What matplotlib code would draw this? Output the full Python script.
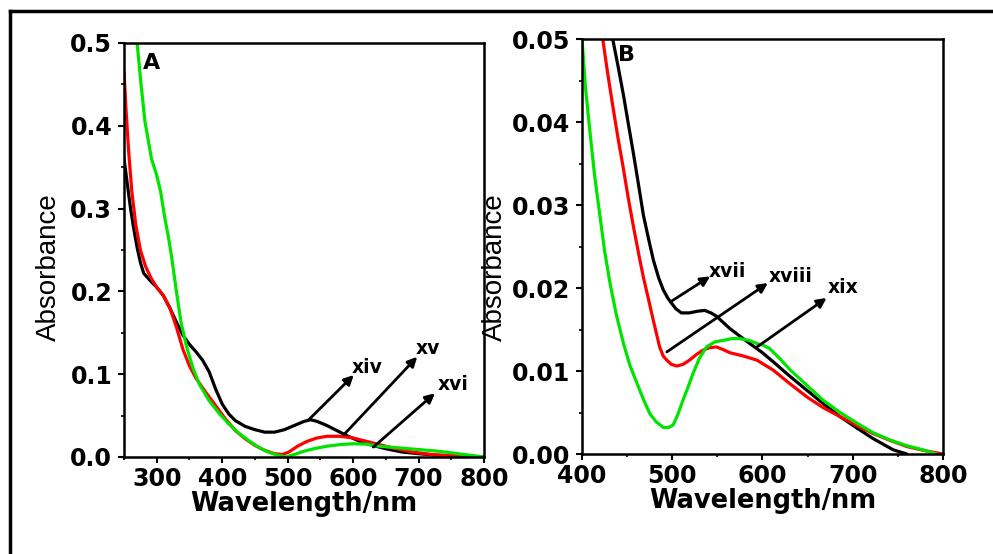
import matplotlib.pyplot as plt
from matplotlib.lines import Line2D

plt.rcParams['font.family'] = ['DejaVu Sans']

# Panel A spectra (wavelength nm, absorbance)
wl_a_black = [250, 255, 260, 265, 270, 275, 280, 290, 300, 310, 320, 330, 340, 350, 360,
              370, 380, 390, 400, 410, 420, 435, 450, 465, 480, 495, 510, 525, 535, 545,
              560, 575, 590, 610, 630, 650, 675, 700, 730, 760, 800]
abs_a_black = [0.36, 0.33, 0.30, 0.275, 0.253, 0.235, 0.222, 0.213, 0.205, 0.195, 0.180,
               0.163, 0.147, 0.136, 0.127, 0.117, 0.103, 0.082, 0.064, 0.052, 0.044, 0.037,
               0.033, 0.030, 0.030, 0.033, 0.038, 0.043, 0.045, 0.043, 0.038, 0.032, 0.026,
               0.019, 0.014, 0.010, 0.006, 0.004, 0.002, 0.001, 0.0]
wl_a_red = [250, 253, 257, 262, 268, 275, 283, 292, 300, 310, 320, 330, 340, 350, 360,
            375, 390, 405, 420, 435, 450, 465, 480, 492, 502, 515, 530, 545, 560, 580,
            600, 620, 640, 660, 690, 720, 760, 790]
abs_a_red = [0.465, 0.42, 0.37, 0.32, 0.28, 0.25, 0.23, 0.215, 0.205, 0.195, 0.18, 0.157,
             0.13, 0.11, 0.095, 0.078, 0.062, 0.046, 0.032, 0.022, 0.014, 0.008, 0.004,
             0.003, 0.006, 0.013, 0.019, 0.023, 0.025, 0.025, 0.023, 0.019, 0.015, 0.011,
             0.006, 0.003, 0.001, 0.0]
wl_a_green = [270, 276, 282, 292, 300, 306, 312, 318, 323, 330, 337, 345, 355, 365, 380,
              395, 410, 425, 440, 455, 470, 485, 497, 510, 525, 540, 560, 580, 600, 620,
              640, 670, 700, 730, 760, 800]
abs_a_green = [0.50, 0.45, 0.405, 0.36, 0.34, 0.32, 0.29, 0.265, 0.24, 0.20, 0.163, 0.135,
               0.108, 0.088, 0.068, 0.053, 0.04, 0.029, 0.02, 0.012, 0.006, 0.002, 0.0,
               0.003, 0.007, 0.010, 0.013, 0.015, 0.016, 0.0155, 0.013, 0.011, 0.009,
               0.007, 0.004, 0.0]

# Panel B spectra
wl_b_black = [434, 440, 446, 451, 457, 463, 468, 474, 479, 485, 490, 495, 499, 504, 510,
              519, 528, 536, 543, 549, 557, 564, 575, 586, 600, 612, 630, 649, 667, 686,
              705, 722, 735, 745, 760]
abs_b_black = [0.05, 0.0467, 0.0432, 0.0400, 0.0362, 0.0322, 0.0288, 0.0258, 0.0234,
               0.0212, 0.0198, 0.0188, 0.0182, 0.0175, 0.0170, 0.0170, 0.0172, 0.0173,
               0.0170, 0.0166, 0.0158, 0.0151, 0.0142, 0.0133, 0.0122, 0.0111, 0.0094,
               0.0077, 0.0061, 0.0045, 0.0031, 0.0019, 0.0011, 0.0005, 0.0]
wl_b_red = [423, 428, 434, 440, 446, 451, 457, 463, 468, 474, 479, 483, 486, 490, 494, 499,
            505, 512, 519, 527, 534, 541, 549, 556, 564, 579, 594, 603, 612, 630, 649, 667,
            686, 705, 722, 740, 760, 780, 800]
abs_b_red = [0.05, 0.0462, 0.042, 0.038, 0.0343, 0.031, 0.0274, 0.024, 0.0213, 0.0185,
             0.0161, 0.0143, 0.0129, 0.0118, 0.0113, 0.0108, 0.0106, 0.0108, 0.0113, 0.0120,
             0.0125, 0.0128, 0.0129, 0.0126, 0.0122, 0.0118, 0.0113, 0.0107, 0.0101,
             0.0085, 0.0069, 0.0056, 0.0045, 0.0034, 0.0025, 0.0017, 0.0009, 0.0004, 0.0]
wl_b_green = [400, 404, 409, 414, 420, 425, 431, 438, 446, 453, 461, 468, 475, 482, 490,
              496, 501, 506, 512, 518, 523, 530, 538, 547, 557, 566, 575, 585, 594, 601,
              608, 620, 631, 649, 667, 686, 705, 722, 741, 760, 778, 793]
abs_b_green = [0.05, 0.044, 0.0386, 0.0335, 0.0286, 0.0245, 0.0206, 0.0168, 0.0133, 0.0107,
               0.0085, 0.0066, 0.0049, 0.0039, 0.0032, 0.0032, 0.0035, 0.0047, 0.0065,
               0.0082, 0.0097, 0.0115, 0.0129, 0.0135, 0.0137, 0.0139, 0.0139, 0.0137,
               0.0133, 0.0131, 0.0127, 0.0114, 0.0101, 0.0083, 0.0065, 0.0050, 0.0037,
               0.0026, 0.0017, 0.0010, 0.0005, 0.0]

# Curve labels: (text, curve point, arrow tip, text position)
labels_a = [('xiv', (531, 0.044), (601, 0.099), (598, 0.108)),
            ('xv', (586, 0.027), (698, 0.121), (695, 0.131)),
            ('xvi', (631, 0.012), (725, 0.077), (730, 0.087))]
labels_b = [('xvii', (499, 0.0184), (542, 0.0214), (540, 0.0220)),
            ('xviii', (494, 0.0123), (606, 0.0206), (607, 0.0214)),
            ('xix', (594, 0.0129), (671, 0.0188), (672, 0.0201))]

GREEN = '#00e400'
RED = '#ff0000'

fig = plt.figure(figsize=(9.93, 5.54), dpi=100)
ax_a = fig.add_axes([0.1249, 0.1751, 0.3625, 0.7473])
ax_b = fig.add_axes([0.5861, 0.1805, 0.3635, 0.7491])


def style(ax, xmin, xmax, ymax, xticks, yticks, xminor, yminor, yfmt):
    ax.set_xlim(xmin, xmax)
    ax.set_ylim(0, ymax)
    ax.set_xticks(xticks)
    ax.set_yticks(yticks)
    ax.set_xticks(xminor, minor=True)
    ax.set_yticks(yminor, minor=True)
    ax.set_yticklabels([yfmt.format(v) for v in yticks])
    ax.tick_params(which='major', direction='out', length=4, width=1.5,
                   labelsize=17, top=False, right=False)
    ax.tick_params(axis='x', which='major', pad=3)
    ax.tick_params(axis='y', which='major', pad=4.5)
    ax.tick_params(which='minor', direction='out', length=2.5, width=1.2,
                   top=False, right=False)
    for lab in ax.get_xticklabels() + ax.get_yticklabels():
        lab.set_fontweight('bold')
    for sp in ax.spines.values():
        sp.set_linewidth(1.8)
    ax.set_xlabel('Wavelength/nm', fontsize=18.5, fontweight='bold', labelpad=0)
    ax.set_ylabel('Absorbance', fontsize=20, fontweight='normal',
                  family=['Liberation Sans', 'DejaVu Sans'])


style(ax_a, 250, 800, 0.5, [300, 400, 500, 600, 700, 800],
      [0.0, 0.1, 0.2, 0.3, 0.4, 0.5],
      [250, 350, 450, 550, 650, 750], [0.05, 0.15, 0.25, 0.35, 0.45], '{:.1f}')
style(ax_b, 400, 800, 0.05, [400, 500, 600, 700, 800],
      [0.0, 0.01, 0.02, 0.03, 0.04, 0.05],
      [450, 550, 650, 750], [0.005, 0.015, 0.025, 0.035, 0.045], '{:.2f}')
ax_a.yaxis.set_label_coords(-0.172, 0.459)
ax_b.yaxis.set_label_coords(-0.205, 0.45)

lw = 2.3
for ax, curves in ((ax_a, [(wl_a_black, abs_a_black, 'black'),
                           (wl_a_red, abs_a_red, RED),
                           (wl_a_green, abs_a_green, GREEN)]),
                   (ax_b, [(wl_b_black, abs_b_black, 'black'),
                           (wl_b_red, abs_b_red, RED),
                           (wl_b_green, abs_b_green, GREEN)])):
    for x, y, c in curves:
        ax.plot(x, y, color=c, lw=lw, solid_joinstyle='round', solid_capstyle='round')

for ax, labels in ((ax_a, labels_a), (ax_b, labels_b)):
    for txt, start, tip, pos in labels:
        ax.annotate('', xy=tip, xytext=start,
                    arrowprops=dict(arrowstyle='-|>', color='black', lw=2,
                                    mutation_scale=14, shrinkA=0, shrinkB=0))
        ax.text(pos[0], pos[1], txt, fontsize=13.5, fontweight='bold',
                ha='left', va='center')

ax_a.text(0.053, 0.975, 'A', transform=ax_a.transAxes, fontsize=16,
          fontweight='bold', ha='left', va='top')
ax_b.text(0.1, 0.985, 'B', transform=ax_b.transAxes, fontsize=16,
          fontweight='bold', ha='left', va='top')

# outer frame of the figure panel
fx = 10 / 993
fy = 1 - 11 / 554
fig.add_artist(Line2D([fx, 1.0], [fy, fy], color='black', lw=2.5, transform=fig.transFigure))
fig.add_artist(Line2D([fx, fx], [0.0, fy], color='black', lw=2.5, transform=fig.transFigure))

fig.savefig('out.png', dpi=100)
